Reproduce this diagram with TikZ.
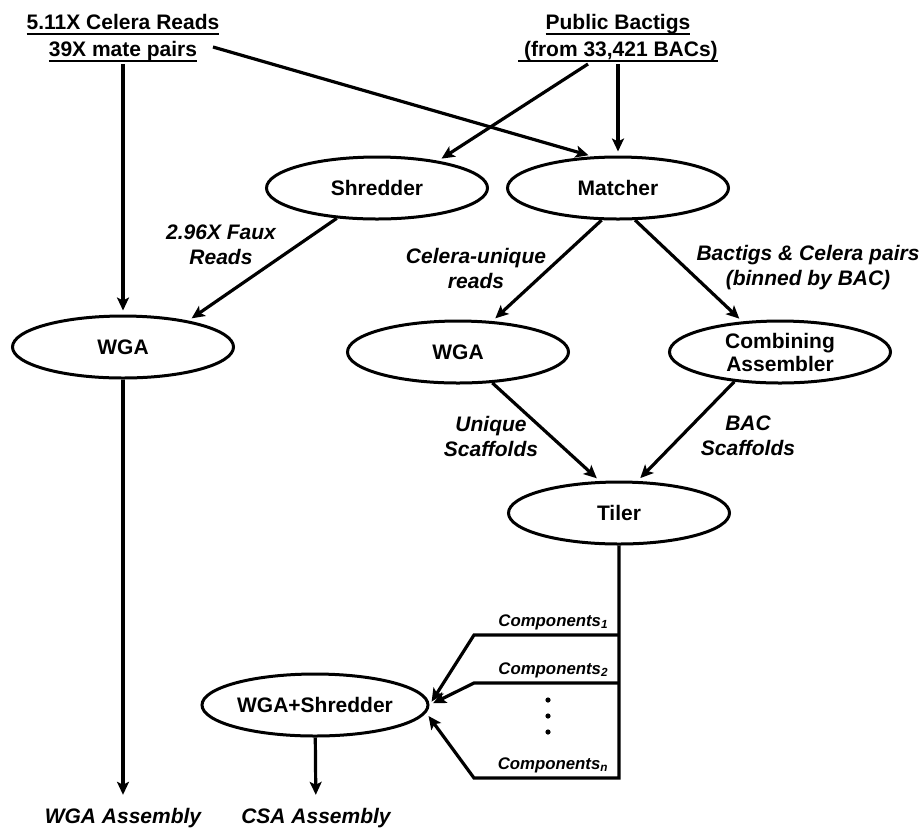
\documentclass[tikz,border=0pt]{standalone}
\usepackage{fontspec}
\setmainfont{Liberation Sans}
\usetikzlibrary{arrows.meta,shapes.geometric}
\pgfdeclarelayer{bg}
\pgfsetlayers{bg,main}
\newsavebox\undlbox
\newcommand{\undl}[1]{\sbox\undlbox{#1}\rlap{\usebox\undlbox}\rule[-2.5pt]{\wd\undlbox}{1pt}}
\tikzset{
    every node/.style={inner sep=1pt, align=center, font=\bfseries\fontsize{10.5}{12.5}\selectfont}
}
\tikzset{
    proc/.style={ellipse, draw, line width=1.5pt, minimum width=110.5pt, minimum height=31pt, font=\bfseries\fontsize{10.5}{11.5}\selectfont},
    heading/.style={font=\bfseries\fontsize{10.5}{13.5}\selectfont},
    note/.style={font=\bfseries\itshape\fontsize{10.5}{12.5}\selectfont},
    comp/.style={anchor=base east, xshift=-4pt, yshift=4.5pt, font=\bfseries\itshape\fontsize{8.4}{10}\selectfont},
    flow/.style={line width=1.6pt, shorten >=2pt, -{Stealth[length=6.5pt, width=6pt, inset=1.5pt]}}
}

\begin{document}
\begin{tikzpicture}[x=0.5pt, y=-0.5pt]
    \useasboundingbox (0,0) rectangle (922,827);

    \node (celera) [heading] at (123,38) {\undl{5.11X Celera Reads}\\\undl{39X mate pairs}};
    \node (bactigs) [heading] at (618,38) {\undl{Public Bactigs}\\\undl{\ (from 33,421 BACs)}};
    \coordinate (mates) at (213,47);

    \node (shredder) [proc] at (377,188) {Shredder};
    \node (matcher) [proc] at (618,188) {Matcher};
    \node (wgaL) [proc] at (123,347) {WGA};
    \node (wgaM) [proc] at (458,352) {WGA};
    \node (combiner) [proc] at (780,352) {Combining\\Assembler};
    \node (tiler) [proc] at (619,513) {Tiler};
    \node (wgashred) [proc] at (315,705) {WGA+Shredder};

    \node (faux) [note] at (221,245) {2.96X Faux\\Reads};
    \node (uniq) [note] at (476,268) {Celera-unique\\reads};
    \node (binned) [note] at (808,268) {Bactigs \& Celera pairs\\(binned by BAC)};
    \node (uscaf) [note] at (491,436) {Unique\\Scaffolds};
    \node (bscaf) [note] at (748,436) {BAC\\Scaffolds};

    \coordinate (c1r) at (619,635);
    \coordinate (c1l) at (474,635);
    \coordinate (c2r) at (619,683);
    \coordinate (c2l) at (474,683);
    \coordinate (cnr) at (619,778);
    \coordinate (cnl) at (474,778);
    \node (comp1) [comp] at (c1r) {Components\textsubscript{1}};
    \node (comp2) [comp] at (c2r) {Components\textsubscript{2}};
    \node (compn) [comp] at (cnr) {Components\textsubscript{n}};
    \foreach \y in {700,716,732}
        \fill (548,\y) circle (1.3pt);

    \node (wgaout) [note] at (123,818) {WGA Assembly};
    \node (csaout) [note] at (316,818) {CSA Assembly};

    \begin{pgfonlayer}{bg}
        \draw[flow] (celera) -- (wgaL);
        \draw[flow] (mates) -- (matcher.129);
        \draw[flow] ([xshift=-15pt]bactigs.south) -- (shredder.24);
        \draw[flow] (bactigs) -- (matcher);

        \draw[flow] (shredder.217) -- (wgaL.22);
        \draw[flow] (matcher.243) -- (wgaM.42);
        \draw[flow] (matcher.298) -- (combiner.141);
        \draw[flow] (wgaM.318) -- (tiler.121);
        \draw[flow] (combiner.213) -- (tiler.60);

        \draw[flow] (tiler) -- (cnr) -- (cnl) -- (wgashred.-4);
        \draw[flow] (c1r) -- (c1l) -- (wgashred.east);
        \draw[flow] (c2r) -- (c2l) -- (wgashred.east);

        \draw[flow, shorten >=5.5pt] (wgaL) -- (wgaout);
        \draw[flow, shorten >=5.5pt] (wgashred) -- (csaout);
    \end{pgfonlayer}
\end{tikzpicture}
\end{document}
